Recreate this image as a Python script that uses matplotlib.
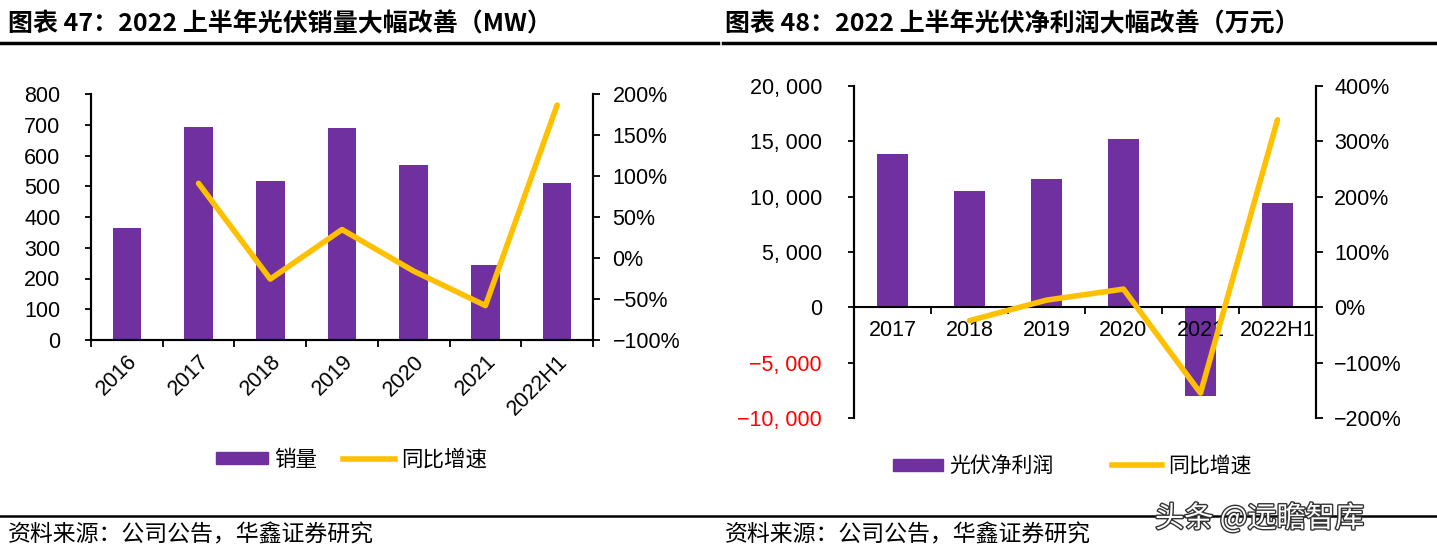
import numpy as np
import matplotlib.pyplot as plt
from matplotlib.lines import Line2D
from matplotlib.patches import Patch
from matplotlib.ticker import FuncFormatter, MultipleLocator, FixedLocator
import matplotlib.patheffects as pe

plt.rcParams['font.family'] = ['Liberation Sans', 'Noto Sans CJK SC', 'DejaVu Sans']

# chart 47: sales volume (MW)
sales_years = ['2016', '2017', '2018', '2019', '2020', '2021', '2022H1']
sales_mw = [365, 694, 516, 690, 570, 245, 512]
sales_yoy = [None, 91, -25.7, 34.7, -16, -58, 186.5]

# chart 48: net profit (10k yuan)
profit_years = ['2017', '2018', '2019', '2020', '2021', '2022H1']
profit = [13900, 10480, 11590, 15255, -8018, 9400]
profit_yoy = [None, -24, 13, 33, -155, 339]

BAR = '#7030A0'
LINE = '#FFC000'
CJK = ['Noto Sans CJK SC', 'DejaVu Sans']
W, H = 1437, 551
FS = 15.5

fig = plt.figure(figsize=(W / 100, H / 100), dpi=100)


def box(l, t, r, b):
    return [l / W, 1 - b / H, (r - l) / W, (b - t) / H]


def pct(v, p):
    return f'{v:.0f}%'.replace('-', '\u2212')


def style(ax, ax2, lpad, rpad):
    ax.tick_params(axis='y', direction='out', length=4.5, width=1.3,
                   labelsize=FS, pad=lpad)
    ax2.tick_params(axis='y', direction='out', length=5, width=1.3,
                    labelsize=FS, pad=rpad)
    for a in (ax, ax2):
        for s in a.spines.values():
            s.set_linewidth(1.5)
        a.spines['top'].set_visible(False)


# ---------------- left chart ----------------
ax = fig.add_axes(box(91, 94, 593, 340))
ax.set_axisbelow(False)
x = np.arange(len(sales_years))
ax.bar(x, sales_mw, width=0.4, color=BAR)
ax.set_xlim(-0.5, len(x) - 0.5)
ax.set_ylim(0, 800)
ax.yaxis.set_major_locator(MultipleLocator(100))
ax2 = ax.twinx()
yx = [i for i, v in enumerate(sales_yoy) if v is not None]
yv = [v for v in sales_yoy if v is not None]
ax2.plot(yx, yv, color=LINE, lw=4, solid_capstyle='round', solid_joinstyle='round')
ax2.set_ylim(-100, 200)
ax2.yaxis.set_major_locator(MultipleLocator(50))
ax2.yaxis.set_major_formatter(FuncFormatter(pct))
style(ax, ax2, 17.5, 9)
ax.xaxis.set_major_locator(FixedLocator(x))
ax.xaxis.set_minor_locator(FixedLocator(np.arange(-0.5, len(x), 1)))
ax.tick_params(axis='x', which='major', length=0, pad=8)
ax.tick_params(axis='x', which='minor', direction='out', length=5, width=1.3)
ax.set_xticklabels(sales_years, rotation=45, ha='right', va='top',
                   rotation_mode='anchor', fontsize=FS)

fig.legend(handles=[Patch(color=BAR, label='销量'),
                    Line2D([], [], color=LINE, lw=4, label='同比增速')],
           loc='center', bbox_to_anchor=(352 / W, 1 - 460 / H), ncol=2,
           frameon=False, prop={'family': CJK, 'size': 15.5},
           handlelength=2.4, handleheight=0.5, handletextpad=0.3,
           columnspacing=1.2)

# ---------------- right chart ----------------
bx = fig.add_axes(box(854, 86, 1316, 418))
bx.set_axisbelow(False)
x2 = np.arange(len(profit_years))
bx.bar(x2, profit, width=0.4, color=BAR)
bx.set_xlim(-0.5, len(x2) - 0.5)
bx.set_ylim(-10000, 20000)
bx.yaxis.set_major_locator(MultipleLocator(5000))
bx.yaxis.set_major_formatter(FuncFormatter(
    lambda v, p: f'{v:,.0f}'.replace(',', ', ').replace('-', '\u2212')))
bx2 = bx.twinx()
px = [i for i, v in enumerate(profit_yoy) if v is not None]
pv = [v for v in profit_yoy if v is not None]
bx2.plot(px, pv, color=LINE, lw=4, solid_capstyle='round', solid_joinstyle='round')
bx2.set_ylim(-200, 400)
bx2.yaxis.set_major_locator(MultipleLocator(100))
bx2.yaxis.set_major_formatter(FuncFormatter(pct))
style(bx, bx2, 18.5, 8)
bx.spines['bottom'].set_position(('data', 0))
bx2.spines['bottom'].set_visible(False)
bx.xaxis.set_major_locator(FixedLocator(x2))
bx.xaxis.set_minor_locator(FixedLocator(np.arange(-0.5, len(x2), 1)))
bx.tick_params(axis='x', which='major', length=0, pad=9, labelsize=FS)
bx.tick_params(axis='x', which='minor', direction='out', length=5, width=1.3)
bx.set_xticklabels(profit_years)
fig.canvas.draw()
for t, v in zip(bx.get_yticklabels(), bx.get_yticks()):
    if v < 0:
        t.set_color('red')

fig.legend(handles=[Patch(color=BAR, label='光伏净利润'),
                    Line2D([], [], color=LINE, lw=4, label='同比增速')],
           loc='center', bbox_to_anchor=(1072 / W, 1 - 466 / H), ncol=2,
           frameon=False, prop={'family': CJK, 'size': 15},
           handlelength=2.4, handleheight=0.5, handletextpad=0.3,
           columnspacing=2.8)

# ---------------- titles, rules, sources ----------------
fig.text(8 / W, 1 - 24 / H, '图表 47：2022 上半年光伏销量大幅改善（MW）',
         family=CJK, fontsize=18, fontweight='bold', va='center')
fig.text(725 / W, 1 - 24 / H, '图表 48：2022 上半年光伏净利润大幅改善（万元）',
         family=CJK, fontsize=18, fontweight='bold', va='center')
fig.add_artist(Line2D([0, 718 / W], [1 - 43 / H] * 2, color='black', lw=2.5))
fig.add_artist(Line2D([723 / W, 1], [1 - 43 / H] * 2, color='black', lw=2.5))
fig.add_artist(Line2D([0, 1], [1 - 516 / H] * 2, color='black', lw=1.8))
fig.text(8 / W, 1 - 535 / H, '资料来源：公司公告，华鑫证券研究',
         family=CJK, fontsize=16.5, va='center')
fig.text(725 / W, 1 - 535 / H, '资料来源：公司公告，华鑫证券研究',
         family=CJK, fontsize=16.5, va='center')
fig.text(1155 / W, 1 - 519 / H, '头条 @远瞻智库', family=CJK, fontsize=21,
         color='white', va='center',
         path_effects=[pe.withStroke(linewidth=2, foreground='#333333')])

fig.savefig('out.png', dpi=100)
